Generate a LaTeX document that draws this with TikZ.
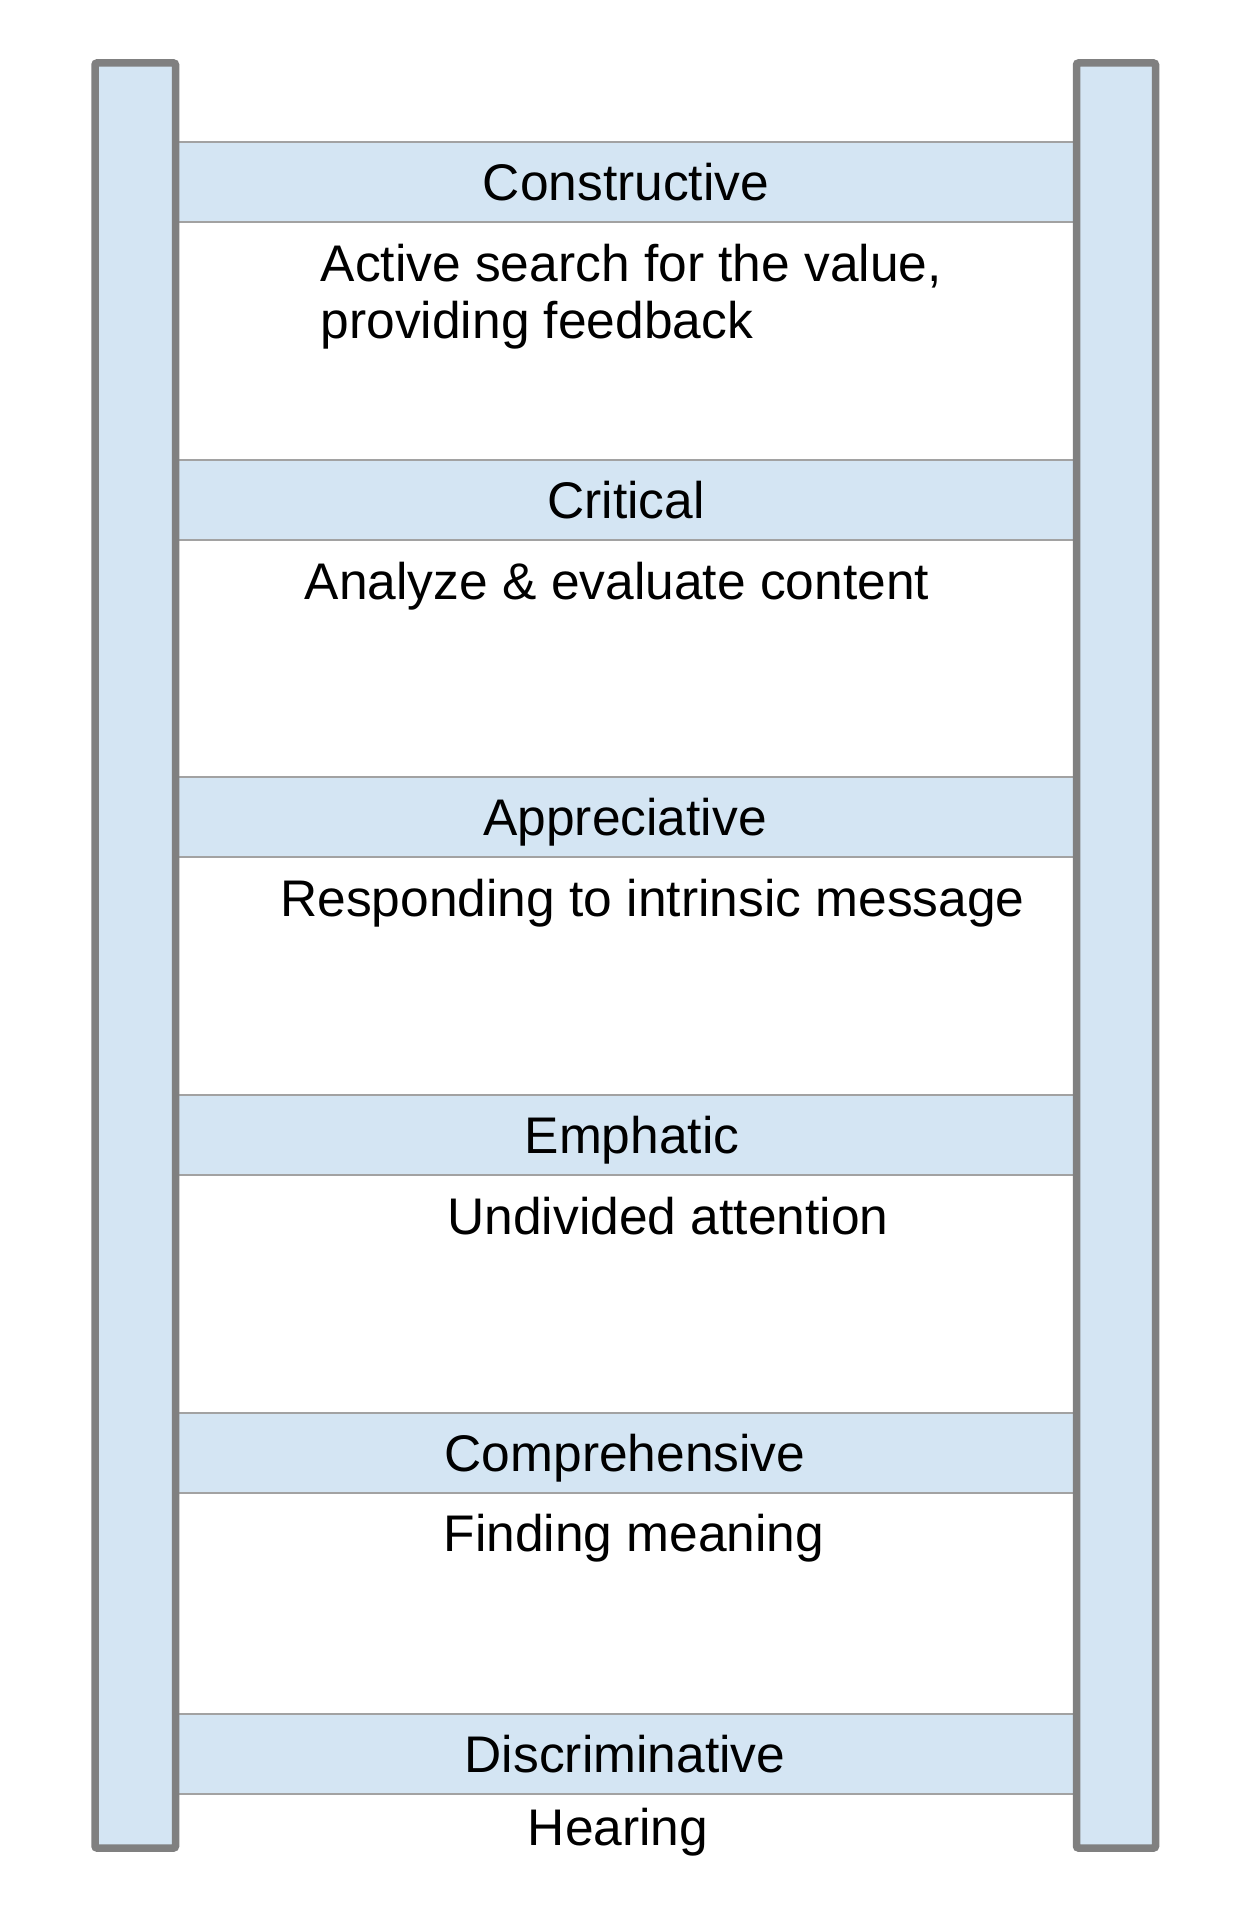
\documentclass[tikz,border=0pt]{standalone}
\usepackage{fontspec}
\setmainfont{Liberation Sans}
\definecolor{lblue}{HTML}{D4E5F3}
\definecolor{railgray}{HTML}{808080}
\definecolor{runggray}{HTML}{A2A2A2}
\begin{document}
\begin{tikzpicture}[x=1pt,y=-1pt,
  rail/.style={draw=railgray, line width=7.5pt, fill=lblue, rounded corners=2pt},
  rung/.style={draw=runggray, line width=2pt, fill=lblue},
  lbl/.style={inner sep=0pt, anchor=base, font=\fontsize{51.5}{57}\selectfont}]
\useasboundingbox (0,0) rectangle (1248,1910);
\fill[white] (0,0) rectangle (1248,1910);
\foreach \t in {142,460,777,1095,1413,1714}{
  \draw[rung] (177,\t) rectangle (1075,\t+80);
}
\draw[rail] (95,63) rectangle (175.5,1848);
\draw[rail] (1076.5,63) rectangle (1155.5,1848);
% titles
\node[lbl] (t1) at (626,200.5) {Constructive};
\node[lbl] (t2) at (626,518.5) {Critical};
\node[lbl] (t3) at (625,835.5) {Appreciative};
\node[lbl] (t4) at (632,1153.5) {Emphatic};
\node[lbl] (t5) at (625,1471.5) {Comprehensive};
\node[lbl] (t6) at (625,1772.5) {Discriminative};
% descriptions
\node[lbl, anchor=base west, align=left] (d1) at (320.5,338) {Active search for the value,\\providing feedback};
\node[lbl] (d2) at (617,599) {Analyze \& evaluate content};
\node[lbl] (d3) at (652.5,916) {Responding to intrinsic message};
\node[lbl] (d4) at (668,1234) {Undivided attention};
\node[lbl] (d5) at (634,1551) {Finding meaning};
\node[lbl] (d6) at (618,1845) {Hearing};
\end{tikzpicture}
\end{document}
